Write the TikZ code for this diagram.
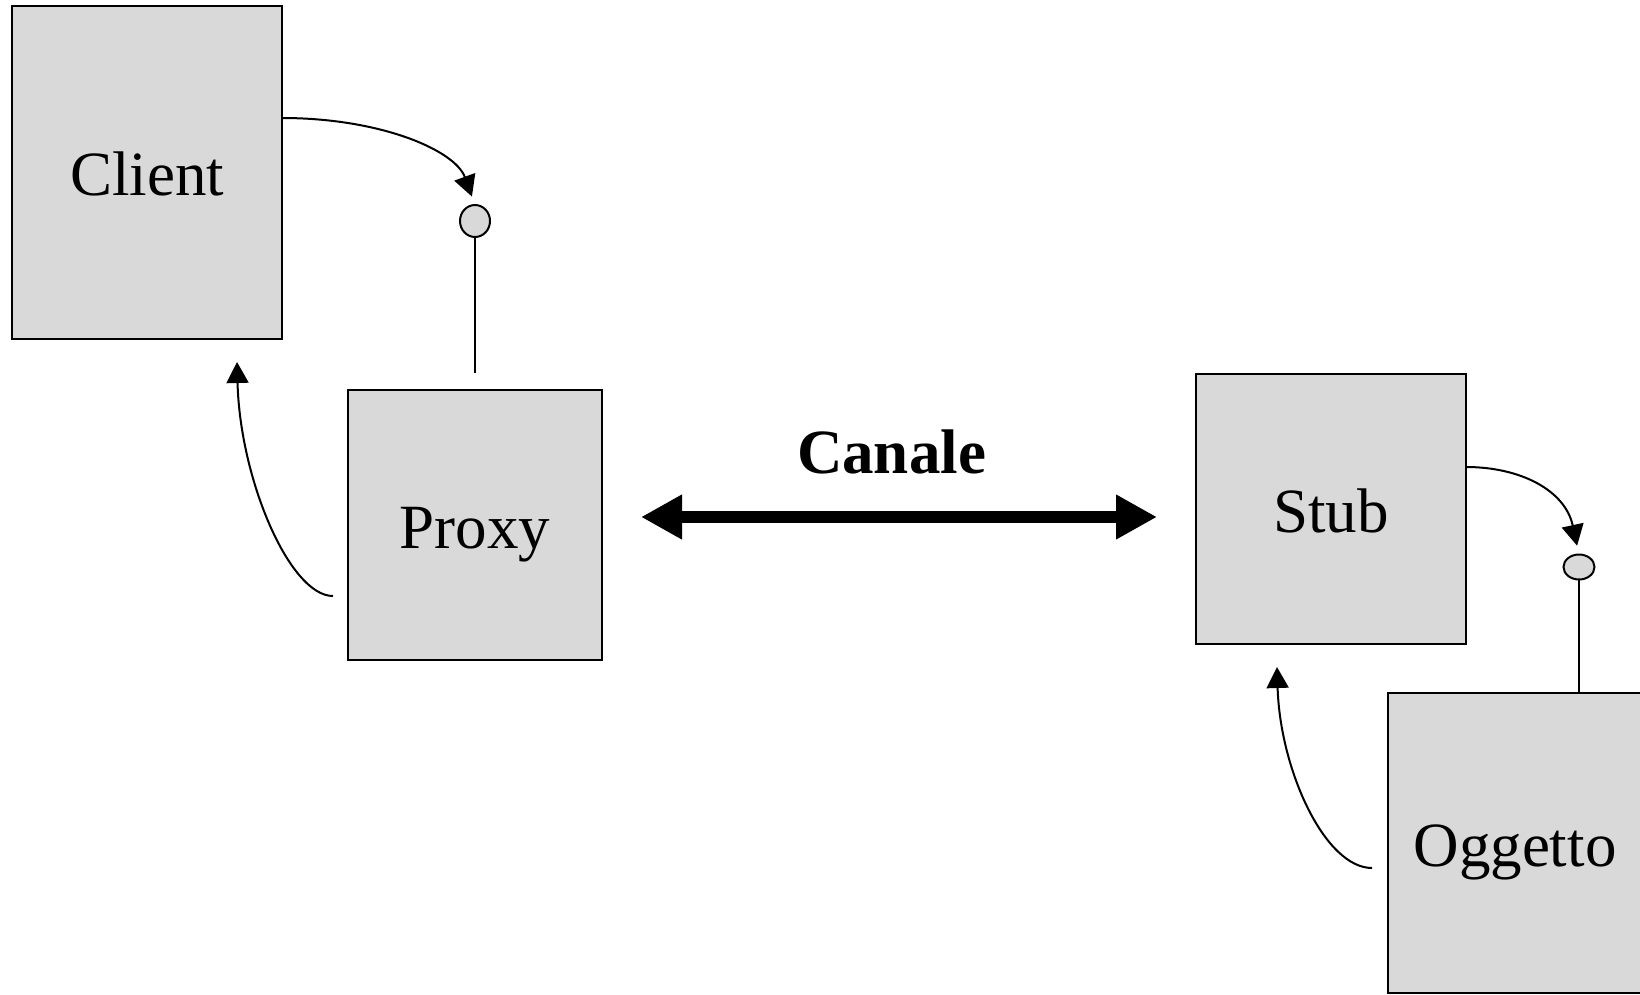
\documentclass[tikz,border=0pt]{standalone}
\usepackage{fontspec}
\setmainfont{Liberation Serif}
\usetikzlibrary{arrows.meta,calc,shapes.geometric}
\definecolor{boxgray}{HTML}{D9D9D9}
\tikzset{
  block/.style={draw=black, fill=boxgray, line width=2.5pt, inner sep=0pt, outer sep=0pt,
    font=\fontsize{63}{70}\selectfont, text height=47pt, text depth=0pt},
  port/.style={draw=black, fill=boxgray, line width=2pt, ellipse, inner sep=0pt, outer sep=0pt},
  call/.style={line width=2pt, -{Triangle[length=21pt,width=22pt]}},
  link/.style={line width=2pt},
  channel/.style={line width=12pt, {Triangle[length=41pt,width=42pt]}-{Triangle[length=41pt,width=42pt]}}
}
\begin{document}
\begin{tikzpicture}[x=1pt,y=-1pt]
  \useasboundingbox (0,0) rectangle (1640,995);
  \clip (0,0) rectangle (1640,995);

  % components
  \node[block, minimum width=270pt, minimum height=333pt] (client) at (147,172.5) {Client};
  \node[block, minimum width=254pt, minimum height=270pt] (proxy) at (475,525) {Proxy};
  \node[block, minimum width=270pt, minimum height=270pt] (stub) at (1331,509) {Stub};
  \node[block, minimum width=254pt, minimum height=300pt] (oggetto) at (1515,843) {Oggetto};

  % interface ports
  \node[port, minimum width=30pt, minimum height=32pt] (pport) at (475,221) {};
  \node[port, minimum width=31pt, minimum height=25pt] (oport) at (1579,567) {};

  % port stems
  \draw[link, shorten >=17pt] (pport.south) -- (pport.south |- proxy.north);
  \draw[link] (oport.south) -- (oport.south |- oggetto.north);

  % invocations
  \coordinate (c1) at ($(client.north east)+(0,112)$);
  \draw[call, shorten >=9pt] (c1) .. controls (380,118) and (455,150) .. (pport.north);
  \coordinate (s1) at ($(stub.north east)+(0,93)$);
  \draw[call, shorten >=9pt] (s1) .. controls (1520,467) and (1565,490) .. (oport.north);

  % returns
  \coordinate (p1) at (333,596);
  \coordinate (ct) at (237,362);
  \draw[call] (p1) .. controls (290,596) and (240,480) .. (ct);
  \coordinate (o1) at (1372,868);
  \coordinate (st) at (1277,667);
  \draw[call] (o1) .. controls (1325,868) and (1280,770) .. (st);

  % channel
  \coordinate (chL) at (641,517);
  \coordinate (chR) at (1157,517);
  \draw[channel] (chL) -- (chR);
  \node[font=\fontsize{63}{70}\selectfont\bfseries, anchor=base, inner sep=0pt] (canale) at (891.5,473) {Canale};
\end{tikzpicture}
\end{document}
